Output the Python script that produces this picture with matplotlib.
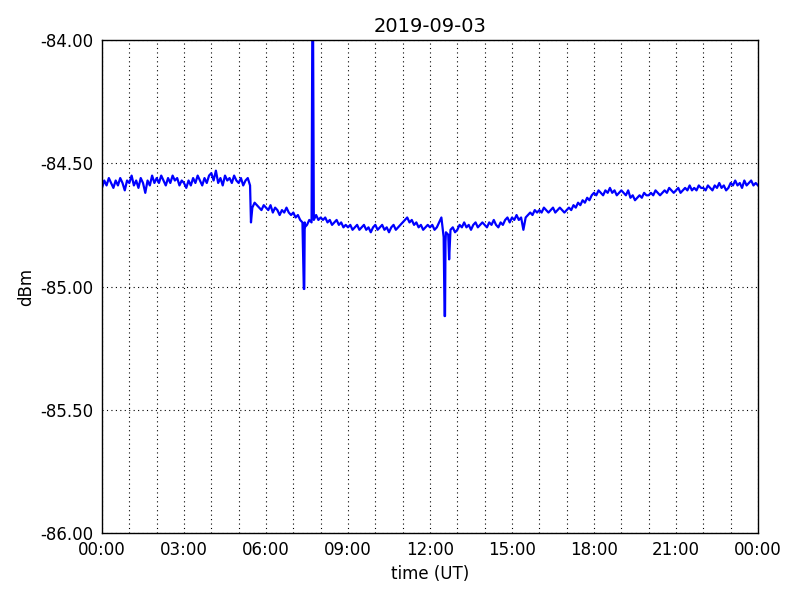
#! /usr/bin/env python3
import numpy as np
import pandas as pd
import matplotlib
matplotlib.use("Agg")
import matplotlib.pyplot as plt
import matplotlib.dates as mdates
from matplotlib.ticker import FormatStrFormatter

day = "2019-09-03"

# 5 minute readings (dBm), one row per hour
hourly = [
    [-84.60, -84.57, -84.59, -84.56, -84.58, -84.60, -84.57, -84.59, -84.56, -84.58, -84.61, -84.57],
    [-84.58, -84.55, -84.59, -84.57, -84.60, -84.56, -84.58, -84.62, -84.57, -84.59, -84.55, -84.58],
    [-84.56, -84.58, -84.55, -84.57, -84.59, -84.56, -84.58, -84.55, -84.57, -84.56, -84.59, -84.57],
    [-84.58, -84.60, -84.57, -84.59, -84.56, -84.58, -84.55, -84.57, -84.59, -84.56, -84.58, -84.55],
    [-84.54, -84.57, -84.53, -84.58, -84.56, -84.59, -84.55, -84.57, -84.56, -84.58, -84.55, -84.57],
    [-84.58, -84.56, -84.59, -84.57, -84.56, -84.59, -84.68, -84.66, -84.67, -84.68, -84.69, -84.67],
    [-84.68, -84.69, -84.67, -84.70, -84.68, -84.69, -84.71, -84.69, -84.70, -84.68, -84.70, -84.71],
    [-84.70, -84.72, -84.71, -84.73, -84.74, -84.74, -84.75, -84.73, -84.74, -84.73, -84.71, -84.73],
    [-84.72, -84.73, -84.72, -84.74, -84.73, -84.75, -84.74, -84.73, -84.75, -84.74, -84.76, -84.75],
    [-84.76, -84.75, -84.77, -84.76, -84.75, -84.77, -84.76, -84.75, -84.77, -84.76, -84.78, -84.76],
    [-84.75, -84.77, -84.76, -84.75, -84.77, -84.76, -84.78, -84.76, -84.75, -84.77, -84.76, -84.75],
    [-84.74, -84.73, -84.72, -84.74, -84.73, -84.75, -84.74, -84.76, -84.75, -84.77, -84.76, -84.75],
    [-84.76, -84.75, -84.77, -84.76, -84.74, -84.72, -84.80, -84.78, -84.79, -84.77, -84.76, -84.78],
    [-84.77, -84.75, -84.76, -84.74, -84.76, -84.75, -84.77, -84.75, -84.74, -84.76, -84.75, -84.74],
    [-84.75, -84.76, -84.74, -84.75, -84.73, -84.75, -84.76, -84.74, -84.75, -84.73, -84.72, -84.74],
    [-84.72, -84.73, -84.71, -84.73, -84.72, -84.77, -84.72, -84.71, -84.70, -84.71, -84.69, -84.70],
    [-84.69, -84.70, -84.68, -84.69, -84.70, -84.69, -84.68, -84.70, -84.69, -84.68, -84.69, -84.70],
    [-84.69, -84.68, -84.69, -84.67, -84.68, -84.66, -84.67, -84.65, -84.66, -84.64, -84.65, -84.63],
    [-84.62, -84.63, -84.61, -84.62, -84.63, -84.61, -84.62, -84.60, -84.62, -84.61, -84.63, -84.62],
    [-84.61, -84.62, -84.63, -84.61, -84.64, -84.63, -84.65, -84.64, -84.63, -84.64, -84.62, -84.63],
    [-84.63, -84.62, -84.63, -84.61, -84.62, -84.63, -84.62, -84.61, -84.62, -84.60, -84.61, -84.62],
    [-84.61, -84.60, -84.62, -84.61, -84.60, -84.61, -84.59, -84.61, -84.60, -84.61, -84.59, -84.60],
    [-84.60, -84.61, -84.59, -84.60, -84.61, -84.59, -84.60, -84.58, -84.60, -84.59, -84.61, -84.60],
    [-84.58, -84.59, -84.57, -84.59, -84.58, -84.60, -84.57, -84.59, -84.58, -84.57, -84.59, -84.58],
]
last_value = -84.59

# short events between the regular readings (minutes after midnight, dBm)
event_minutes = [327, 442, 443, 444, 445, 462, 463, 752, 753, 754, 762]
event_values = [-84.74, -84.93, -85.01, -85.01, -84.76, -83.80, -83.80, -85.12, -85.12, -84.82, -84.89]

minutes = [h * 60 + 5 * k for h in range(24) for k in range(12)] + [1440]
values = [v for row in hourly for v in row] + [last_value]
minutes = minutes + event_minutes
values = values + event_values
order = np.argsort(minutes, kind="stable")
t = pd.Timestamp(day) + pd.to_timedelta(np.array(minutes)[order], unit="m")
y = np.array(values)[order]

fig = plt.figure(figsize=(8, 6), dpi=100)
ax = fig.add_axes([0.1275, 0.1117, 0.82, 0.8216])
ax.plot(t, y, color="b", linewidth=1.6)

ax.set_xlim(pd.Timestamp(day), pd.Timestamp(day) + pd.Timedelta(days=1))
ax.set_ylim(-86, -84)
ax.set_yticks([-86, -85.5, -85, -84.5, -84])
ax.yaxis.set_major_formatter(FormatStrFormatter("%.2f"))
ax.xaxis.set_major_locator(mdates.HourLocator(byhour=range(0, 24, 3)))
ax.xaxis.set_minor_locator(mdates.HourLocator())
ax.xaxis.set_major_formatter(mdates.DateFormatter("%H:%M"))

grid_style = dict(color="k", linestyle=(0, (1, 3)), linewidth=0.8)
ax.grid(True, which="major", **grid_style)
ax.grid(True, which="minor", axis="x", **grid_style)
ax.tick_params(which="both", length=0, labelsize=12, pad=6)
for s in ax.spines.values():
    s.set_linewidth(1.0)

ax.set_xlabel("time (UT)", fontsize=12)
ax.set_ylabel("dBm", fontsize=12)
ax.set_title(day, fontsize=14)

fig.savefig("out.png", dpi=100)
